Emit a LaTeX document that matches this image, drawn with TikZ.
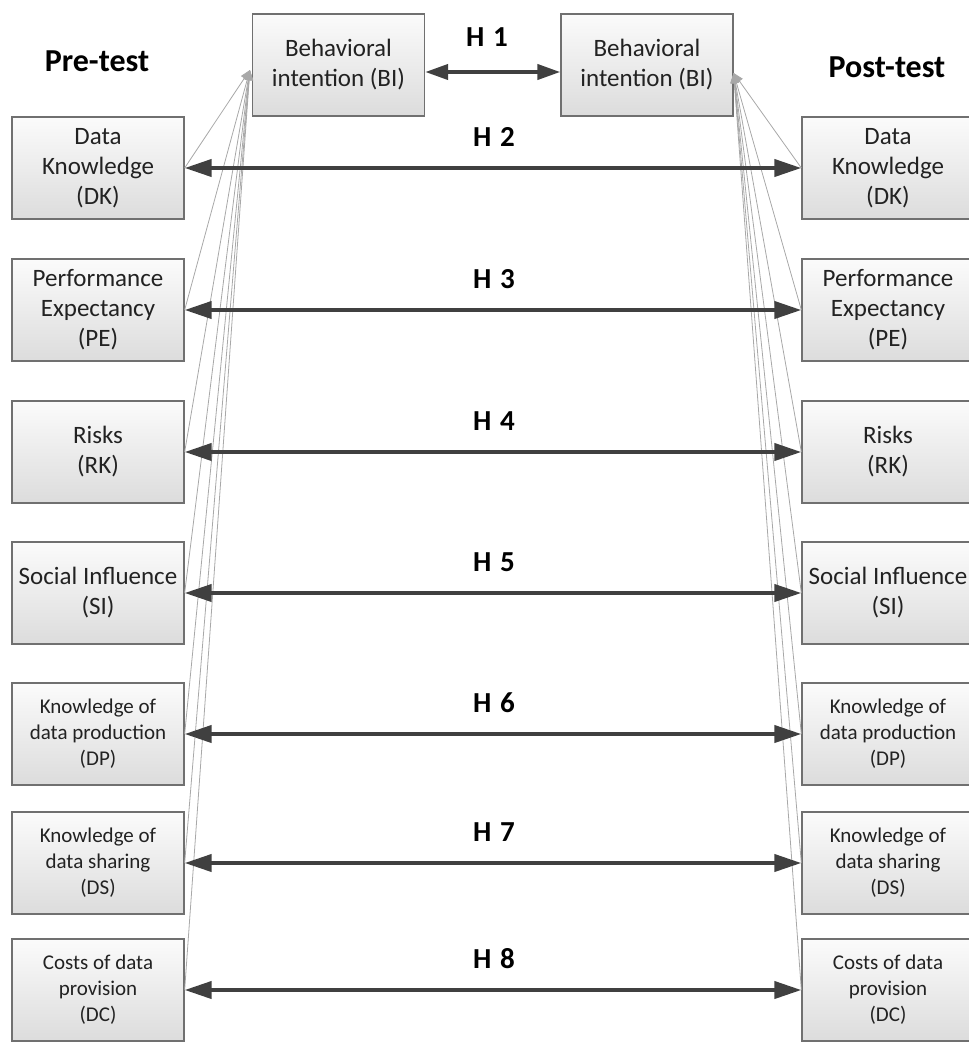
\documentclass[tikz,border=0pt]{standalone}
\usepackage{fontspec}
\setmainfont{Carlito}
\usetikzlibrary{arrows.meta,calc}

\definecolor{boxedge}{RGB}{112,112,112}
\definecolor{boxtop}{RGB}{251,251,251}
\definecolor{boxbot}{RGB}{220,220,220}
\definecolor{hyp}{RGB}{64,64,64}
\definecolor{link}{RGB}{168,168,168}
\definecolor{ink}{RGB}{34,34,34}

\begin{document}
\begin{tikzpicture}[x=1pt,y=-1pt,
  var/.style={draw=boxedge, line width=1.3pt, top color=boxtop, bottom color=boxbot,
    minimum width=172pt, minimum height=102pt, align=center, text=ink,
    font=\fontsize{25}{30}\selectfont, inner sep=0pt},
  varsm/.style={var, font=\fontsize{21}{26}\selectfont},
  hyparrow/.style={draw=hyp, line width=4pt,
    {Triangle[length=27pt,width=17pt]}-{Triangle[length=27pt,width=17pt]}},
  hlabel/.style={font=\bfseries\fontsize{29}{34}\selectfont, text=black, inner sep=0pt},
  phase/.style={font=\bfseries\fontsize{32}{37}\selectfont, text=black, inner sep=0pt},
  feed/.style={draw=link, line width=0.8pt, -{Triangle[length=10pt,width=8pt]}},
]
\clip (0,0) rectangle (969,1042);

% phase titles
\node[phase] (pre) at (97,61) {Pre-test};
\node[phase] (post) at (887,67) {Post-test};

% behavioural intention at both measurement points
\node[var] (BIL) at (338.5,65) {Behavioral\\intention (BI)};
\node[var] (BIR) at (647,65) {Behavioral\\intention (BI)};

% pre-test constructs
\node[var]   (DKL) at (98,168) {Data\\Knowledge\\(DK)};
\node[var]   (PEL) at (98,310) {Performance\\Expectancy\\(PE)};
\node[var]   (RKL) at (98,452) {Risks\\(RK)};
\node[var]   (SIL) at (98,593) {Social Influence\\(SI)};
\node[varsm] (DPL) at (98,734) {Knowledge of\\data production\\(DP)};
\node[varsm] (DSL) at (98,863) {Knowledge of\\data sharing\\(DS)};
\node[varsm] (DCL) at (98,990) {Costs of data\\provision\\(DC)};

% post-test constructs
\node[var]   (DKR) at (888,168) {Data\\Knowledge\\(DK)};
\node[var]   (PER) at (888,310) {Performance\\Expectancy\\(PE)};
\node[var]   (RKR) at (888,452) {Risks\\(RK)};
\node[var]   (SIR) at (888,593) {Social Influence\\(SI)};
\node[varsm] (DPR) at (888,734) {Knowledge of\\data production\\(DP)};
\node[varsm] (DSR) at (888,863) {Knowledge of\\data sharing\\(DS)};
\node[varsm] (DCR) at (888,990) {Costs of data\\provision\\(DC)};

% paths from each construct to behavioural intention
\coordinate (inL) at ($(BIL.west)+(-2,5)$);
\coordinate (inR) at ($(BIR.east)+(0,8)$);
\foreach \n in {DK,PE,RK,SI,DP,DS,DC} {
  \draw[feed] (\n L.east) -- (inL);
  \draw[feed] (\n R.west) -- (inR);
}

% hypotheses linking pre-test and post-test
\draw[hyparrow, {Triangle[length=23pt,width=15pt]}-{Triangle[length=23pt,width=15pt]}]
  ($(BIL.east)+(0,7)$) -- ($(BIR.west)+(0,7)$);
\node[hlabel] (h1) at (487,37) {H\hspace{0.3em}1};
\foreach \n/\h in {DK/2,PE/3,RK/4,SI/5,DP/6,DS/7,DC/8} {
  \draw[hyparrow] (\n L.east) -- (\n R.west);
  \node[hlabel] (h\h) at ($(\n L.east)!0.5!(\n R.west)+(1,-31)$) {H\hspace{0.3em}\h};
}
\end{tikzpicture}
\end{document}
